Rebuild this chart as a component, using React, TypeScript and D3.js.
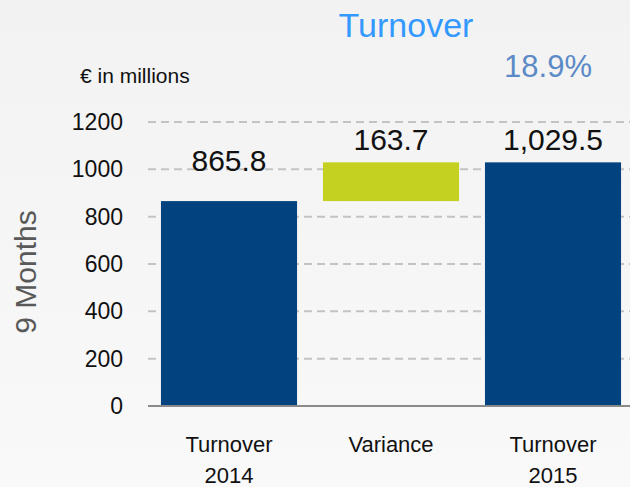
import React from "react";
import * as d3 from "d3";

const categories = ["Turnover 2014", "Variance", "Turnover 2015"];
const categoryLines = [["Turnover", "2014"], ["Variance"], ["Turnover", "2015"]];
const barStarts = [0, 865.8, 0];
const barEnds = [865.8, 1029.5, 1029.5];
const valueLabels = ["865.8", "163.7", "1,029.5"];
const yTicks = [0, 200, 400, 600, 800, 1000, 1200];
const title = "Turnover";
const changeLabel = "18.9%";
const unitLabel = "€ in millions";
const sideLabel = "9 Months";

const W = 630;
const H = 487;
const FONT = "'Liberation Sans', Arial, sans-serif";
const barColors = ["#02427f", "#c4d121", "#02427f"];
const labelGap = [30, 12, 12];

export default function App() {
  const y = d3.scaleLinear().domain([0, 1200]).range([406, 122]);
  const x = d3.scaleBand<string>().domain(categories).range([148, 634]).paddingInner(0.16).paddingOuter(0.08);
  const bw = x.bandwidth();

  return (
    <svg width={W} height={H} style={{ position: "absolute", left: 0, top: 0 }}>
      <defs>
        <linearGradient id="bg" x1="0" y1="0" x2="0" y2="1">
          <stop offset="0" stopColor="#f2f2f2" />
          <stop offset="1" stopColor="#f9f9f9" />
        </linearGradient>
      </defs>
      <rect x={0} y={0} width={W} height={H} fill="url(#bg)" />

      {yTicks.filter((t) => t > 0).map((t) => (
        <line key={"g" + t} x1={148} x2={630} y1={y(t)} y2={y(t)} stroke="#c3c3c3" strokeWidth={2} strokeDasharray="8,5" />
      ))}
      {yTicks.map((t) => (
        <text key={"t" + t} x={123} y={y(t)} dy="0.35em" textAnchor="end" fontFamily={FONT} fontSize={23} fill="#111">
          {t}
        </text>
      ))}

      {categories.map((c, i) => {
        const top = y(Math.max(barStarts[i], barEnds[i]));
        const bot = y(Math.min(barStarts[i], barEnds[i]));
        return (
          <g key={c}>
            <rect x={x(c)} y={top} width={bw} height={bot - top} fill={barColors[i]} />
            <text x={(x(c) as number) + bw / 2} y={top - labelGap[i]} textAnchor="middle" fontFamily={FONT} fontSize={30} fill="#111">
              {valueLabels[i]}
            </text>
            {categoryLines[i].map((ln, j) => (
              <text key={j} x={(x(c) as number) + bw / 2} y={452 + j * 31} textAnchor="middle" fontFamily={FONT} fontSize={22} fill="#111">
                {ln}
              </text>
            ))}
          </g>
        );
      })}

      <line x1={148} x2={630} y1={y(0)} y2={y(0)} stroke="#8a8a8a" strokeWidth={2} />

      <text x={406} y={37} textAnchor="middle" fontFamily={FONT} fontSize={34} fill="#3399ff">{title}</text>
      <text x={548} y={77} textAnchor="middle" fontFamily={FONT} fontSize={31} fill="#5b8ac6">{changeLabel}</text>
      <text x={80} y={83} fontFamily={FONT} fontSize={21} fill="#111">{unitLabel}</text>
      <text transform="translate(36,272) rotate(-90)" textAnchor="middle" fontFamily={FONT} fontSize={30} fill="#595959">{sideLabel}</text>
    </svg>
  );
}
